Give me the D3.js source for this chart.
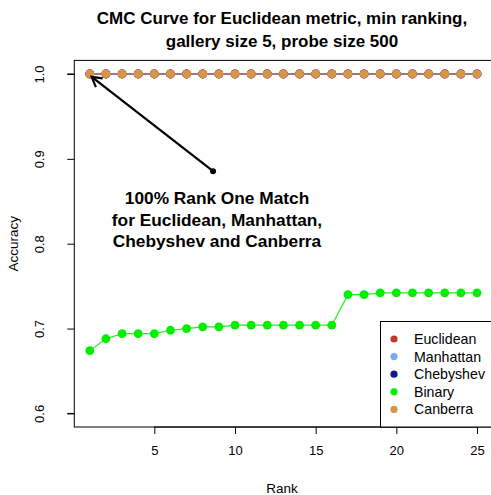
<!DOCTYPE html>
<html>
<head>
<meta charset="utf-8">
<script src="https://cdn.jsdelivr.net/npm/d3@7"></script>
<style>
  html, body { margin: 0; padding: 0; background: #fff; }
  svg { display: block; font-family: "Liberation Sans", Arial, Helvetica, sans-serif; }
</style>
</head>
<body>
<svg id="chart" width="491" height="495"></svg>
<script>
// Rank axis (1..25)
const ranks = d3.range(1, 26);

// Accuracy per rank for each distance metric
const euclidean = Array(25).fill(1.0);
const manhattan = Array(25).fill(1.0);
const chebyshev = Array(25).fill(1.0);
const binary = [0.674, 0.688, 0.694, 0.694, 0.694, 0.698, 0.700, 0.702, 0.702, 0.704,
                0.704, 0.704, 0.704, 0.704, 0.704, 0.704, 0.740, 0.740, 0.742, 0.742,
                0.742, 0.742, 0.742, 0.742, 0.742];
const canberra = Array(25).fill(1.0);

const seriesNames = ["Euclidean", "Manhattan", "Chebyshev", "Binary", "Canberra"];
const pointColors = ["#C0392B", "#78AAF0", "#0A1A8C", "#00EE00", "#DA9447"];
const lineColors  = ["#C0392B", "#78AAF0", "#0A1A8C", "#22EE22", "#9C7A7A"];
const lineWidths  = [2, 2, 2, 1.2, 2];

const xTicks = [5, 10, 15, 20, 25];
const yTicks = [0.6, 0.7, 0.8, 0.9, 1.0];

const seriesValues = [euclidean, manhattan, chebyshev, binary, canberra];

const svg = d3.select("#chart");

// Plot region
const x = d3.scaleLinear().domain([0.04, 25.96]).range([74.3, 492.5]);
const y = d3.scaleLinear().domain([0.584, 1.016]).range([427, 60.4]);

// Title
const titleLines = ["CMC Curve for Euclidean metric, min ranking,", "gallery size 5, probe size 500"];
svg.append("g").selectAll("text")
  .data(titleLines)
  .join("text")
  .attr("x", 282).attr("y", (d, i) => 24 + i * 23)
  .attr("text-anchor", "middle")
  .attr("font-weight", "bold").attr("font-size", 17)
  .text(d => d);

// Axes
const xAxis = d3.axisBottom(x).tickValues(xTicks).tickSize(7).tickPadding(12)
  .tickFormat(d3.format("d"));
const gx = svg.append("g").attr("transform", "translate(0,427)").call(xAxis);
gx.select(".domain").remove();
gx.selectAll("text").attr("font-size", 13).attr("font-family", "Liberation Sans, Arial, sans-serif").attr("fill", "#000");
gx.selectAll(".tick line").attr("stroke", "#000");
gx.append("path").attr("d", `M${x(5)},0H${x(25)}`).attr("stroke", "#000").attr("fill", "none");

const yAxis = d3.axisLeft(y).tickValues(yTicks).tickSize(7).tickFormat(d3.format(".1f"));
const gy = svg.append("g").attr("transform", "translate(74.3,0)").call(yAxis);
gy.select(".domain").attr("d", `M-7,${y(0.6)}H0M-7,${y(1.0)}H0`).attr("stroke", "#000");
gy.selectAll(".tick line").attr("stroke", "#000");
gy.selectAll("text")
  .attr("font-size", 13).attr("font-family", "Liberation Sans, Arial, sans-serif").attr("fill", "#000")
  .attr("text-anchor", "middle")
  .attr("x", 0).attr("y", 0).attr("dy", "0.35em")
  .attr("transform", "translate(-35,0) rotate(-90)");

// Axis titles
svg.append("text")
  .attr("x", 282).attr("y", 493)
  .attr("text-anchor", "middle").attr("font-size", 13.5)
  .text("Rank");
svg.append("text")
  .attr("transform", `translate(18,${(60.4 + 427) / 2}) rotate(-90)`)
  .attr("text-anchor", "middle").attr("font-size", 13.5)
  .text("Accuracy");

// Plot box
svg.append("rect")
  .attr("x", 74.3).attr("y", 60.4)
  .attr("width", 492.5 - 74.3).attr("height", 427 - 60.4)
  .attr("fill", "none").attr("stroke", "#000").attr("stroke-width", 1);

// Series lines and points
const line = d3.line().x((d, i) => x(ranks[i])).y(d => y(d));
seriesValues.forEach((vals, s) => {
  svg.append("path")
    .datum(vals)
    .attr("d", line)
    .attr("fill", "none")
    .attr("stroke", lineColors[s])
    .attr("stroke-width", lineWidths[s]);
  svg.append("g").selectAll("circle")
    .data(vals)
    .join("circle")
    .attr("cx", (d, i) => x(ranks[i]))
    .attr("cy", d => y(d))
    .attr("r", 4.4)
    .attr("fill", pointColors[s]);
});

// Annotation arrow
const arrowFrom = [8.64, 0.8855];
const arrowTo = [1.12, 0.9965];
const x0 = x(arrowFrom[0]), y0 = y(arrowFrom[1]);
const x1 = x(arrowTo[0]), y1 = y(arrowTo[1]);
svg.append("line")
  .attr("x1", x0).attr("y1", y0).attr("x2", x1).attr("y2", y1)
  .attr("stroke", "#000").attr("stroke-width", 2.2);
const ang = Math.atan2(y0 - y1, x0 - x1);
const headLen = 11, headAng = Math.PI / 6;
svg.append("path")
  .attr("d", `M${x1 + headLen * Math.cos(ang - headAng)},${y1 + headLen * Math.sin(ang - headAng)}L${x1},${y1}L${x1 + headLen * Math.cos(ang + headAng)},${y1 + headLen * Math.sin(ang + headAng)}`)
  .attr("fill", "none").attr("stroke", "#000").attr("stroke-width", 2.2);
svg.append("circle").attr("cx", x0).attr("cy", y0).attr("r", 3).attr("fill", "#000");

// Annotation text
const noteLines = ["100% Rank One Match", "for Euclidean, Manhattan,", "Chebyshev and Canberra"];
svg.append("g").selectAll("text")
  .data(noteLines)
  .join("text")
  .attr("x", 217)
  .attr("y", (d, i) => 204 + i * 21.7)
  .attr("text-anchor", "middle")
  .attr("font-weight", "bold").attr("font-size", 17.3)
  .text(d => d);

// Legend
const lg = svg.append("g");
lg.append("rect")
  .attr("x", 380.5).attr("y", 321.5).attr("width", 120).attr("height", 427 - 321.5)
  .attr("fill", "#fff").attr("stroke", "#000");
seriesNames.forEach((name, i) => {
  const cy = 339 + i * 17.6;
  lg.append("circle").attr("cx", 394).attr("cy", cy).attr("r", 3.6).attr("fill", pointColors[i]);
  lg.append("text").attr("x", 414).attr("y", cy).attr("dy", "0.35em")
    .attr("font-size", 14.2).text(name);
});
</script>
</body>
</html>
